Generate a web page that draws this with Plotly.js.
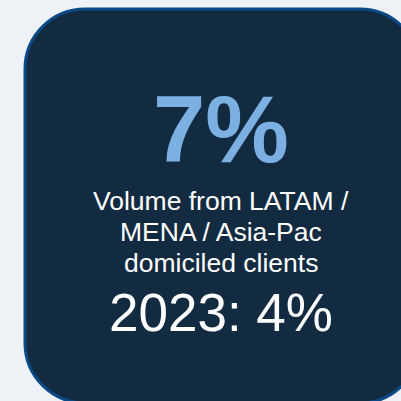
<!DOCTYPE html>
<html>
<head>
<meta charset="utf-8">
<script src="https://cdn.plot.ly/plotly-3.0.1.min.js"></script>
<style>html,body{margin:0;padding:0;background:#eef2f6;}#chart{width:401px;height:401px;}</style>
</head>
<body>
<div id="chart"></div>
<script>
// KPI card data
const kpiValue = ["7%"];
const labelLines = ["Volume from LATAM /", "MENA / Asia-Pac", "domiciled clients"];
const priorYear = ["2023"];
const priorValue = ["4%"];

// card geometry (pixel units on hidden axes)
const card = {x0: 25, x1: 420, y0: 9, y1: 403, r: 60};
function roundedRect(c) {
  const k = 0.5523 * c.r;
  return `M ${c.x0 + c.r} ${c.y0} L ${c.x1 - c.r} ${c.y0} ` +
    `C ${c.x1 - c.r + k} ${c.y0} ${c.x1} ${c.y0 + c.r - k} ${c.x1} ${c.y0 + c.r} ` +
    `L ${c.x1} ${c.y1 - c.r} ` +
    `C ${c.x1} ${c.y1 - c.r + k} ${c.x1 - c.r + k} ${c.y1} ${c.x1 - c.r} ${c.y1} ` +
    `L ${c.x0 + c.r} ${c.y1} ` +
    `C ${c.x0 + c.r - k} ${c.y1} ${c.x0} ${c.y1 - c.r + k} ${c.x0} ${c.y1 - c.r} ` +
    `L ${c.x0} ${c.y0 + c.r} ` +
    `C ${c.x0} ${c.y0 + c.r - k} ${c.x0 + c.r - k} ${c.y0} ${c.x0 + c.r} ${c.y0} Z`;
}

const cx = 221;
const font = "Arial, 'Liberation Sans', sans-serif";
const annotations = [];
annotations.push({x: cx, y: 129, xref: 'x', yref: 'y', text: '<b>' + kpiValue[0] + '</b>', showarrow: false,
  xanchor: 'center', yanchor: 'middle', font: {family: font, size: 94, color: '#7cb0e3'}});
const lineY = [201, 232, 263];
labelLines.forEach((t, i) => annotations.push({x: cx, y: lineY[i], xref: 'x', yref: 'y', text: t, showarrow: false,
  xanchor: 'center', yanchor: 'middle', font: {family: font, size: 26.5, color: '#ffffff'}}));
annotations.push({x: cx, y: 312, xref: 'x', yref: 'y', text: priorYear[0] + ': ' + priorValue[0], showarrow: false,
  xanchor: 'center', yanchor: 'middle', font: {family: font, size: 53, color: '#ffffff'}});

const layout = {
  width: 401, height: 401,
  margin: {l: 0, r: 0, t: 0, b: 0, pad: 0},
  paper_bgcolor: '#eef2f6', plot_bgcolor: 'rgba(0,0,0,0)',
  xaxis: {range: [0, 401], visible: false, fixedrange: true},
  yaxis: {range: [401, 0], visible: false, fixedrange: true},
  shapes: [{type: 'path', xref: 'x', yref: 'y', path: roundedRect(card),
    fillcolor: '#132b41', line: {color: '#0b4a86', width: 3}, layer: 'below'}],
  annotations: annotations,
  showlegend: false
};
Plotly.newPlot('chart', [], layout, {staticPlot: true, displayModeBar: false});
</script>
</body>
</html>
